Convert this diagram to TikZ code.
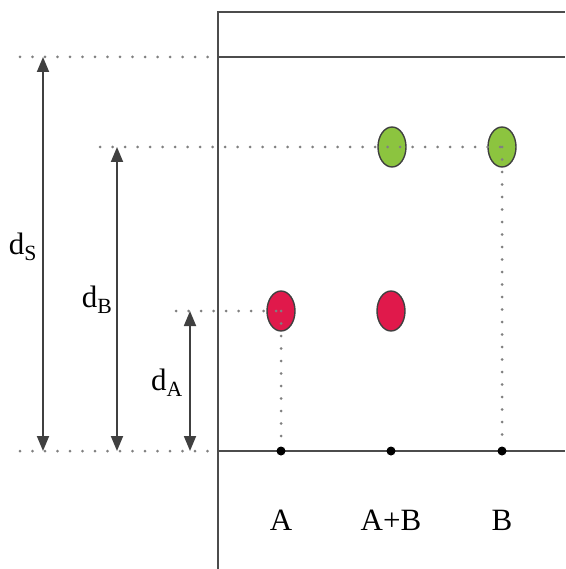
\documentclass[tikz,border=0pt]{standalone}
\usepackage{fontspec}
\setmainfont{Liberation Serif}
\usepackage{xcolor}
\usetikzlibrary{arrows.meta,positioning,shapes.geometric}
\definecolor{spotred}{HTML}{E0194B}
\definecolor{spotgreen}{HTML}{8CC43F}

\begin{document}
\begin{tikzpicture}[x=1pt, y=-1pt, every node/.style={font=\fontsize{31}{32}\selectfont}, frame/.style={line width=2pt, black!70}, guide/.style={black!50, line width=3pt, dash pattern=on 0pt off 12.5pt, line cap=round}, dim/.style={{Triangle[length=15pt,width=12pt]}-{Triangle[length=15pt,width=12pt]}, line width=1.8pt, black!75}, spot/.style={ellipse, draw=black!75, line width=1.4pt, minimum width=28pt, minimum height=40pt, inner sep=0pt}, dot/.style={circle, fill=black, inner sep=0pt, minimum size=9pt}, lane/.style={text height=0.7em, text depth=0pt, inner sep=0pt}]
\useasboundingbox (0,0) rectangle (565,569);
% frame
\coordinate (frameTop) at (218,12);
\coordinate (frameBot) at (218,569);
\coordinate (topRight) at (565,12);
\coordinate (sRight) at (565,57);
\coordinate (sLeft) at (218,57);
\coordinate (baseLeft) at (218,451);
\coordinate (baseRight) at (565,451);
\draw[frame] (frameBot) -- (frameTop) -- (topRight);
\draw[frame] (sLeft) -- (sRight);
\draw[frame] (baseLeft) -- (baseRight);
% spots
\node[spot, fill=spotred] (redA) at (281,311) {};
\node[spot, fill=spotred] (redAB) at (391,311) {};
\node[spot, fill=spotgreen] (greenAB) at (392,147) {};
\node[spot, fill=spotgreen] (greenB) at (502,147) {};
\node[dot] (dotA) at (281,451) {};
\node[dot] (dotAB) at (391,451) {};
\node[dot] (dotB) at (502,451) {};
\node[lane, below=68pt of dotA] (labA) {A};
\node[lane, below=68pt of dotAB] (labAB) {A+B};
\node[lane, below=68pt of dotB] (labB) {B};
% guides
\coordinate (sFar) at (20,57);
\coordinate (bFar) at (100,147);
\coordinate (aFar) at (176,311);
\coordinate (baseFar) at (20,451);
\draw[guide] (sFar) -- (sLeft);
\draw[guide] (bFar) -- (greenB.center);
\draw[guide] (aFar) -- (redA.center);
\draw[guide] (baseFar) -- (baseLeft);
\draw[guide] (redA.center) -- (dotA);
\draw[guide] (greenB.center) -- (dotB);
% distances
\coordinate (sTop) at (43,57);
\coordinate (sBot) at (43,451);
\coordinate (bTop) at (117,147);
\coordinate (bBot) at (117,451);
\coordinate (aTop) at (190,311);
\coordinate (aBot) at (190,451);
\draw[dim] (sTop) -- (sBot);
\draw[dim] (bTop) -- (bBot);
\draw[dim] (aTop) -- (aBot);
\node (labS) at (23,247) {d\textsubscript{S}};
\node (labDB) at (97,300) {d\textsubscript{B}};
\node (labDA) at (167,383) {d\textsubscript{A}};
\end{tikzpicture}
\end{document}
